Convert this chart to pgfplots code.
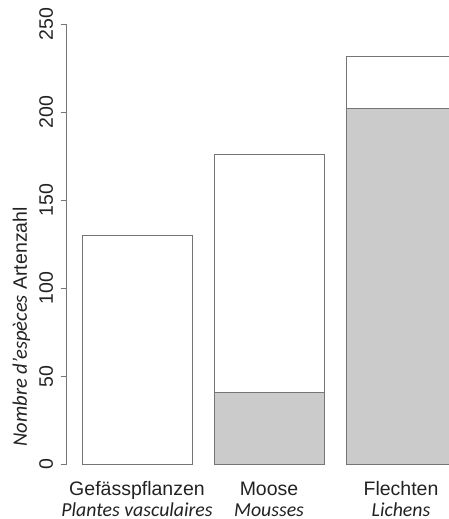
\documentclass[border=0pt]{standalone}
\usepackage{fontspec}
\setmainfont{Liberation Sans}
\newfontfamily\carlito{Carlito}
\usepackage{pgfplots}
\pgfplotsset{compat=1.18}
\definecolor{barfill}{HTML}{CBCBCB}
\definecolor{edge}{HTML}{757575}
\definecolor{txt}{HTML}{222222}
\begin{document}
\begin{tikzpicture}
\begin{axis}[
  name=ax,
  scale only axis,
  width=382.3pt, height=440pt,
  xmin=0.061, xmax=3.536,
  ymin=0, ymax=250,
  enlargelimits=false,
  axis lines*=left,
  x axis line style={draw=none},
  y axis line style={edge, line width=0.8pt},
  ybar stacked, bar width=1,
  xtick={0.7,1.9,3.1},
  xticklabels={{Gefässpflanzen\\{\carlito\itshape\fontsize{19.8}{21}\selectfont Plantes vasculaires}},{Moose\\{\carlito\itshape\fontsize{19.8}{21}\selectfont Mousses}},{Flechten\\{\carlito\itshape\fontsize{19.8}{21}\selectfont Lichens}}},
  xtick style={draw=none},
  xticklabel style={align=center, font=\fontsize{19.5}{21}\selectfont, text=txt, anchor=north, yshift=-8pt},
  ytick={0,50,100,150,200,250},
  ytick style={edge, line width=0.8pt},
  tick align=outside,
  major tick length=6pt,
  yticklabel style={xshift=-4pt, rotate=90, anchor=south, font=\fontsize{19.5}{22}\selectfont, text=txt},
  /pgf/number format/assume math mode=true,
]
\addplot[fill=barfill, draw=edge, line width=0.9pt] coordinates {(0.7,0) (1.9,41) (3.1,202)};
\addplot[fill=white, draw=edge, line width=0.9pt] coordinates {(0.7,130) (1.9,135) (3.1,30)};
\end{axis}
\node[rotate=90, anchor=base east, text=txt, inner sep=0pt] at ([xshift=-39.7pt, yshift=257.3pt]ax.south west)
  {{\carlito\itshape\fontsize{20.6}{22}\selectfont Nombre d’espèces}\ \ {\fontsize{19.5}{22}\selectfont Artenzahl}};
\pgfresetboundingbox
\path[use as bounding box] ([xshift=-66.7pt,yshift=-54.7pt]ax.south west) rectangle ([yshift=24.3pt]ax.north east);
\end{tikzpicture}
\end{document}
